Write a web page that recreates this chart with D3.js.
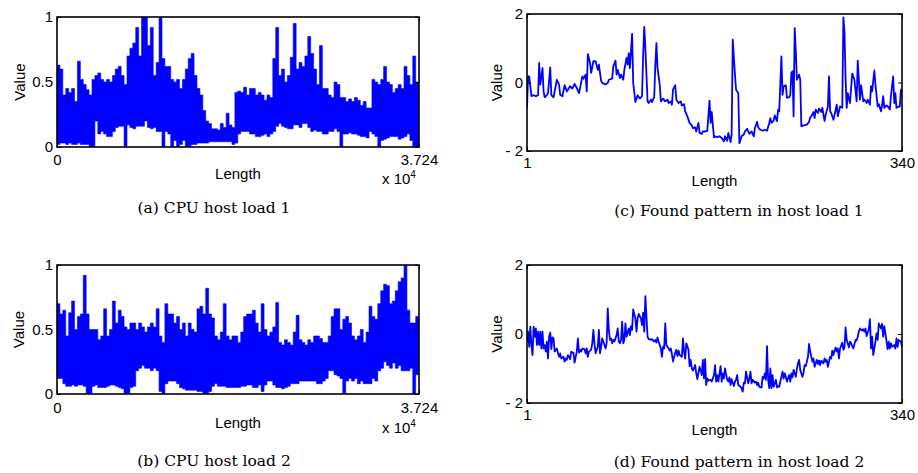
<!DOCTYPE html>
<html>
<head>
<meta charset="utf-8">
<script src="https://cdn.jsdelivr.net/npm/d3@7"></script>
<style>
  body { margin: 0; background: #fff; }
  svg { display: block; }
  .axis text { font-family: "Liberation Sans", Arial, sans-serif; font-size: 15px; fill: #000; }
  .axis line { stroke: #000; stroke-width: 1; }
  .lbl { font-family: "Liberation Sans", Arial, sans-serif; font-size: 15px; fill: #000; }
  .cap { font-family: "DejaVu Serif", serif; font-size: 15.5px; fill: #000; }
</style>
</head>
<body>
<svg id="fig" width="918" height="473"></svg>
<script>
// ---- CPU host load traces: per-bin peak / trough of the load (bin = 300 samples) ----
const TRACE_LENGTH = 37240;
const BIN_SIZE = 300;

const hostLoad1Peak = [
  0.63,0.60,0.40,0.45,0.42,0.45,0.35,0.66,0.52,0.48,
  0.44,0.40,0.52,0.55,0.57,0.52,0.50,0.52,0.50,0.55,
  0.60,0.62,0.55,0.48,0.70,0.76,0.80,0.92,0.70,1.00,
  1.00,0.78,0.92,0.55,0.65,1.00,0.68,0.62,0.62,0.52,
  0.50,0.52,0.45,0.52,0.60,0.68,0.72,0.55,0.45,0.40,
  0.28,0.20,0.18,0.14,0.14,0.13,0.18,0.15,0.26,0.17,
  0.15,0.42,0.43,0.42,0.46,0.40,0.45,0.45,0.40,0.42,
  0.40,0.36,0.40,0.38,0.68,0.92,0.55,0.60,0.50,0.55,
  0.69,0.95,0.60,0.65,0.62,0.70,0.85,0.72,0.60,0.48,
  0.78,0.45,0.45,0.40,0.38,0.50,0.48,0.38,0.38,0.35,
  0.37,0.35,0.38,0.36,0.32,0.35,0.30,0.30,0.52,0.50,
  0.48,0.52,0.62,0.50,0.48,0.42,0.45,0.48,0.45,0.62,
  0.55,0.48,0.70,0.50
];
const hostLoad1Trough = [
  0.02,0.03,0.03,0.02,0.03,0.02,0.02,0.03,0.02,0.02,
  0.02,0.00,0.00,0.20,0.10,0.12,0.10,0.08,0.08,0.12,
  0.15,0.16,0.16,0.00,0.17,0.15,0.14,0.16,0.16,0.16,
  0.20,0.15,0.14,0.15,0.12,0.12,0.00,0.12,0.10,0.00,
  0.05,0.00,0.02,0.05,0.00,0.00,0.02,0.02,0.03,0.03,
  0.03,0.03,0.04,0.04,0.04,0.04,0.04,0.04,0.04,0.04,
  0.02,0.03,0.10,0.12,0.12,0.12,0.10,0.10,0.08,0.08,
  0.09,0.10,0.08,0.10,0.12,0.16,0.18,0.16,0.15,0.14,
  0.14,0.17,0.17,0.15,0.18,0.18,0.15,0.12,0.13,0.12,
  0.12,0.10,0.10,0.12,0.12,0.14,0.12,0.00,0.10,0.10,
  0.11,0.10,0.10,0.09,0.08,0.08,0.07,0.12,0.10,0.08,
  0.00,0.05,0.06,0.07,0.08,0.08,0.08,0.06,0.07,0.08,
  0.10,0.05,0.00,0.00
];

const hostLoad2Peak = [
  0.70,0.62,0.65,0.45,0.63,0.72,0.50,0.60,0.62,0.92,
  0.62,0.50,0.50,0.50,0.42,0.45,0.66,0.45,0.50,0.72,
  0.55,0.65,0.60,0.52,0.50,0.55,0.55,0.50,0.55,0.52,
  0.48,0.52,0.55,0.52,0.66,0.45,0.40,0.70,0.62,0.62,
  0.55,0.60,0.50,0.55,0.45,0.55,0.50,0.48,0.66,0.68,
  0.62,0.82,0.62,0.59,0.45,0.42,0.48,0.70,0.45,0.42,
  0.45,0.45,0.40,0.48,0.60,0.62,0.62,0.65,0.55,0.48,
  0.70,0.50,0.45,0.48,0.52,0.71,0.40,0.38,0.42,0.40,
  0.38,0.48,0.61,0.42,0.40,0.38,0.42,0.40,0.45,0.45,
  0.43,0.40,0.40,0.45,0.60,0.66,0.66,0.50,0.58,0.60,
  0.55,0.45,0.42,0.45,0.50,0.40,0.48,0.68,0.60,0.58,
  0.70,0.80,0.85,0.84,0.70,0.72,0.80,0.87,0.90,1.00,
  0.65,0.55,0.55,0.60
];
const hostLoad2Trough = [
  0.12,0.12,0.08,0.06,0.06,0.07,0.06,0.07,0.07,0.06,
  0.00,0.00,0.06,0.07,0.05,0.05,0.05,0.06,0.07,0.07,
  0.06,0.05,0.04,0.00,0.00,0.05,0.06,0.18,0.20,0.22,
  0.20,0.20,0.18,0.20,0.18,0.02,0.00,0.08,0.10,0.10,
  0.10,0.08,0.05,0.04,0.03,0.03,0.03,0.03,0.02,0.02,
  0.00,0.00,0.02,0.06,0.08,0.06,0.06,0.06,0.05,0.05,
  0.05,0.05,0.05,0.06,0.06,0.07,0.07,0.05,0.05,0.07,
  0.02,0.07,0.10,0.10,0.07,0.05,0.05,0.04,0.05,0.06,
  0.08,0.08,0.08,0.10,0.10,0.10,0.10,0.10,0.10,0.08,
  0.08,0.10,0.12,0.18,0.18,0.15,0.14,0.12,0.00,0.10,
  0.12,0.10,0.12,0.08,0.10,0.08,0.08,0.08,0.12,0.10,
  0.18,0.20,0.25,0.22,0.20,0.24,0.20,0.22,0.18,0.18,
  0.18,0.20,0.00,0.15
];

// ---- Found patterns (sample index, normalised value) ----
const pattern1 = [
  [1,-0.74],[2,0.18],[3,0.18],[5,-0.40],[7,-0.37],[9,-0.40],[11,-0.37],[12,0.57],[13,-0.06],[15,0.42],
  [16,-0.26],[17,-0.43],[19,-0.37],[20,-0.31],[22,0.44],[23,-0.37],[25,-0.43],[28,0.08],[30,-0.06],[31,-0.36],
  [33,-0.40],[35,-0.08],[37,-0.26],[39,-0.16],[40,-0.11],[42,-0.18],[44,-0.04],[46,-0.16],[48,-0.31],[49,-0.16],
  [51,0.18],[52,0.11],[54,0.23],[55,-0.26],[56,0.83],[58,0.57],[59,0.28],[61,0.62],[63,0.62],[65,0.37],
  [66,0.52],[68,0.05],[69,-0.01],[72,-0.06],[74,-0.01],[75,0.08],[78,0.11],[79,0.47],[81,0.64],[82,0.23],
  [83,0.37],[85,0.13],[86,0.23],[88,0.08],[89,0.37],[91,0.72],[92,0.52],[93,0.86],[94,0.42],[96,1.42],
  [97,-0.01],[99,-0.57],[101,-0.37],[103,-0.47],[105,-0.40],[106,0.81],[107,1.62],[108,1.01],[110,-0.55],[111,-0.60],
  [113,-0.50],[114,-0.57],[116,-0.43],[117,0.52],[118,1.15],[119,0.42],[121,-0.06],[122,-0.55],[124,-0.47],[126,-0.55],
  [128,-0.50],[129,-0.60],[131,-0.55],[132,-0.65],[133,-0.21],[135,-0.08],[136,-0.50],[138,-0.60],[140,-0.55],[141,-0.67],
  [143,-0.63],[144,-0.84],[146,-0.99],[148,-1.18],[150,-1.25],[151,-1.33],[153,-1.31],[154,-1.43],[156,-1.18],[157,-1.47],
  [159,-1.50],[160,-1.43],[162,-1.43],[164,-1.41],[166,-0.53],[167,-1.18],[168,-0.86],[170,-1.60],[171,-1.57],[173,-1.60],
  [175,-1.57],[177,-1.62],[179,-1.72],[180,-1.57],[182,-1.70],[183,-1.47],[185,-1.74],[186,-1.52],[187,1.25],[189,0.23],
  [190,-0.21],[192,-0.31],[193,-1.77],[195,-1.57],[197,-1.52],[198,-1.43],[200,-1.35],[202,-1.50],[204,-1.43],[206,-1.57],
  [207,-1.33],[209,-1.15],[210,-1.31],[212,-1.38],[214,-1.41],[216,-1.38],[218,-1.41],[220,-1.18],[221,-1.04],[222,-1.18],
  [224,-1.11],[225,-0.96],[227,-1.13],[228,-0.79],[229,-0.84],[231,0.76],[232,-0.36],[233,-0.11],[235,-0.08],[236,-0.45],
  [238,-0.43],[239,-0.37],[240,0.28],[241,0.33],[242,-0.99],[243,1.59],[244,0.91],[245,0.08],[247,0.23],[248,0.08],
  [249,-1.28],[251,-1.25],[254,-1.23],[256,-1.15],[257,-1.02],[258,-0.99],[260,-0.86],[261,-1.04],[262,-0.79],[264,-0.89],
  [265,-0.76],[267,-0.86],[268,-0.74],[270,-1.13],[271,-0.94],[273,-0.70],[274,0.18],[275,-0.84],[276,-0.89],[278,-1.09],
  [279,-0.94],[281,-0.65],[282,-0.99],[284,-0.70],[286,-0.74],[287,1.90],[288,1.49],[289,0.13],[290,-0.74],[291,-0.31],
  [293,-0.60],[294,-0.16],[295,0.26],[297,0.08],[298,-0.24],[299,-0.55],[300,0.64],[302,-0.50],[303,-0.08],[305,-0.55],
  [306,-0.50],[308,-0.60],[309,-0.50],[311,-0.65],[312,-0.11],[313,-0.26],[315,0.35],[316,-0.06],[318,-0.70],[319,-0.63],
  [321,-0.84],[322,-0.65],[323,-0.40],[324,-0.74],[326,-0.67],[328,-0.73],[329,-0.79],[330,-0.40],[332,0.18],[333,-0.60],
  [334,-0.31],[335,-0.74],[337,-0.70],[338,-0.70],[339,-0.21],[340,-0.40]
];

const pattern2 = [
  [1,-0.22],[2,0.07],[3,-0.37],[4,0.21],[5,-0.32],[6,-0.61],[7,0.21],[8,-0.08],[9,0.16],[10,-0.32],
  [11,0.07],[12,-0.32],[13,0.07],[14,-0.42],[15,0.07],[16,-0.42],[17,-0.32],[18,-0.51],[19,-0.22],[20,-0.71],
  [21,-0.08],[22,0.04],[23,-0.44],[24,-0.10],[25,-0.13],[26,-0.51],[28,-0.42],[29,-0.56],[30,-0.66],[31,-0.56],
  [32,-0.71],[34,-0.66],[35,-0.80],[36,-0.71],[37,-0.75],[38,-0.61],[40,-0.73],[41,-0.51],[42,-0.54],[43,-0.54],
  [44,-0.83],[46,-0.51],[47,-0.13],[48,-0.54],[49,-0.46],[50,-0.51],[51,-0.42],[53,-0.44],[54,-0.56],[55,-0.42],
  [56,-0.66],[57,-0.51],[59,-0.46],[60,-0.27],[61,0.12],[62,-0.27],[63,-0.56],[64,-0.46],[65,-0.37],[66,0.12],
  [67,-0.56],[68,-0.37],[69,-0.13],[70,-0.22],[72,-0.42],[73,-0.27],[74,0.74],[75,0.12],[76,-0.17],[77,-0.13],
  [78,-0.27],[79,-0.17],[80,-0.22],[82,-0.03],[83,0.16],[84,-0.22],[85,-0.27],[86,-0.17],[87,0.36],[88,-0.27],
  [89,-0.17],[90,0.31],[91,-0.08],[93,0.16],[94,-0.03],[95,0.23],[96,0.12],[97,0.71],[99,0.45],[100,0.07],
  [101,0.45],[102,0.58],[104,0.45],[105,0.26],[106,0.62],[107,0.07],[108,1.10],[110,-0.08],[111,-0.15],[112,-0.15],
  [113,-0.17],[114,-0.15],[116,-0.22],[117,-0.17],[118,-0.25],[119,-0.10],[120,-0.22],[122,-0.42],[123,-0.66],[124,-0.37],
  [125,-0.42],[126,0.31],[127,-0.32],[129,-0.42],[130,-0.48],[131,-0.42],[132,-0.58],[133,-0.80],[135,-0.54],[136,-0.46],
  [137,-0.64],[138,-0.48],[139,-0.61],[141,-0.66],[142,-0.13],[143,-0.51],[144,-0.71],[145,-0.27],[147,-0.46],[148,-0.93],
  [149,-0.75],[150,-1.00],[151,-1.06],[153,-0.90],[154,-1.14],[155,-1.31],[156,-1.12],[157,-0.95],[159,-1.19],[160,-0.75],
  [161,-1.29],[162,-0.73],[163,-1.48],[164,-1.29],[165,-1.35],[167,-1.33],[168,-1.38],[170,-1.19],[171,-0.90],[172,-1.38],
  [173,-1.19],[174,-1.38],[176,-0.93],[177,-1.38],[178,-1.14],[179,-1.29],[180,-1.00],[182,-1.33],[183,-1.38],[184,-1.26],
  [185,-1.48],[186,-1.31],[188,-1.51],[189,-1.38],[190,-1.33],[191,-1.19],[192,-1.48],[194,-1.53],[195,-1.57],[196,-1.67],
  [197,-1.41],[198,-1.43],[199,-1.09],[201,-1.43],[202,-1.29],[203,-1.09],[204,-1.43],[205,-1.33],[207,-1.41],[208,-1.38],
  [209,-1.48],[210,-1.41],[211,-1.53],[213,-1.55],[214,-1.24],[215,-1.29],[216,-1.14],[217,-1.33],[218,-0.35],[219,-1.33],
  [220,-1.57],[221,-1.00],[222,-1.57],[223,-1.19],[224,-1.53],[226,-1.33],[227,-1.55],[228,-1.51],[229,-1.53],[230,-1.38],
  [232,-1.09],[233,-1.29],[234,-1.14],[235,-1.24],[236,-1.38],[238,-1.19],[239,-1.38],[240,-1.14],[241,-1.26],[242,-1.04],
  [244,-1.24],[245,-1.00],[246,-0.85],[247,-0.75],[248,-1.04],[250,-1.24],[251,-1.12],[252,-0.90],[253,-0.93],[255,-0.66],
  [256,-0.29],[257,-0.51],[258,-0.66],[259,-0.80],[260,-0.71],[261,-0.95],[263,-0.75],[264,-0.87],[265,-0.77],[266,-0.90],
  [267,-0.77],[269,-0.85],[270,-0.71],[271,-0.80],[272,-0.75],[273,-0.95],[275,-0.66],[276,-0.71],[277,-0.48],[278,-0.61],
  [280,-0.39],[281,-0.51],[282,-0.42],[283,-0.71],[284,-0.42],[286,-0.25],[287,-0.46],[288,-0.39],[289,0.19],[290,-0.17],
  [292,-0.39],[293,-0.22],[294,-0.27],[295,-0.35],[296,-0.42],[298,-0.17],[299,-0.19],[300,-0.08],[301,0.07],[302,0.16],
  [304,0.10],[305,0.14],[306,0.07],[307,0.16],[308,-0.06],[310,0.14],[311,0.43],[312,-0.42],[313,-0.08],[314,-0.61],
  [316,-0.22],[317,0.02],[318,-0.17],[319,0.31],[321,0.16],[322,0.29],[323,-0.08],[324,0.23],[325,0.02],[327,-0.44],
  [328,-0.22],[329,-0.42],[330,-0.27],[331,-0.37],[333,-0.32],[334,-0.42],[335,-0.13],[336,-0.37],[337,-0.17],[339,-0.22],
  [340,-0.37]
];

// ---- tick values and labels ----
const loadTicksY = [0, 0.5, 1];
const loadTickLabelsY = ["0", "0.5", "1"];
const loadTicksX = [0, TRACE_LENGTH];
const loadTickLabelsX = ["0", "3.724"];
const patternTicksY = [-2, 0, 2];
const patternTickLabelsY = ["- 2", "0", "2"];
const patternTicksX = [1, 340];
const patternTickLabelsX = ["1", "340"];

const captions = [
  "(a) CPU host load 1",
  "(b) CPU host load 2",
  "(c) Found pattern in host load 1",
  "(d) Found pattern in host load 2"
];

// Per-bin records for the dense traces (start sample, peak, trough)
function binRecords(peak, trough) {
  const rows = peak.map((p, i) => ({ x: i * BIN_SIZE, hi: p, lo: trough[i] }));
  rows.push({ x: TRACE_LENGTH, hi: peak[peak.length - 1], lo: trough[trough.length - 1] });
  return rows;
}

const svg = d3.select("#fig");
const defs = svg.append("defs");

const panels = [
  { key: "a", box: [57, 17, 419, 147], xDomain: [0, TRACE_LENGTH], yDomain: [0, 1],
    dense: binRecords(hostLoad1Peak, hostLoad1Trough),
    xTicks: loadTicksX, xLabels: loadTickLabelsX, yTicks: loadTicksY, yLabels: loadTickLabelsY,
    xPad: 7, valueX: 25, lengthY: 179, exponent: true, caption: captions[0], capX: 214, capY: 213 },
  { key: "b", box: [57, 265, 419, 394], xDomain: [0, TRACE_LENGTH], yDomain: [0, 1],
    dense: binRecords(hostLoad2Peak, hostLoad2Trough),
    xTicks: loadTicksX, xLabels: loadTickLabelsX, yTicks: loadTicksY, yLabels: loadTickLabelsY,
    xPad: 8, valueX: 24, lengthY: 428, exponent: true, caption: captions[1], capX: 214, capY: 466 },
  { key: "c", box: [527, 14, 902, 151], xDomain: [1, 340], yDomain: [-2, 2],
    points: pattern1, lineWidth: 1.8,
    xTicks: patternTicksX, xLabels: patternTickLabelsX, yTicks: patternTicksY, yLabels: patternTickLabelsY,
    xPad: 6, valueX: 502, lengthY: 186, exponent: false, caption: captions[2], capX: 739, capY: 216 },
  { key: "d", box: [527, 265, 902, 403], xDomain: [1, 340], yDomain: [-2, 2],
    points: pattern2, lineWidth: 1.8,
    xTicks: patternTicksX, xLabels: patternTickLabelsX, yTicks: patternTicksY, yLabels: patternTickLabelsY,
    xPad: 6, valueX: 502, lengthY: 435, exponent: false, caption: captions[3], capX: 739, capY: 467 }
];

panels.forEach(p => {
  const [x0, y0, x1, y1] = p.box;
  const x = d3.scaleLinear().domain(p.xDomain).range([x0, x1]);
  const y = d3.scaleLinear().domain(p.yDomain).range([y1, y0]);
  const g = svg.append("g");

  defs.append("clipPath").attr("id", "clip-" + p.key)
    .append("rect").attr("x", x0).attr("y", y0).attr("width", x1 - x0).attr("height", y1 - y0);

  if (p.dense) {
    // each bin is filled from its trough up to its peak
    const band = d3.area().curve(d3.curveStepAfter)
      .x(d => x(d.x)).y0(d => y(d.lo)).y1(d => y(d.hi));
    g.append("path")
      .attr("clip-path", `url(#clip-${p.key})`)
      .attr("d", band(p.dense))
      .attr("fill", "#0000ff")
      .attr("stroke", "#0000ff")
      .attr("stroke-width", 0.6);
  } else {
    const line = d3.line().x(d => x(d[0])).y(d => y(d[1]));
    g.append("path")
      .attr("clip-path", `url(#clip-${p.key})`)
      .attr("d", line(p.points))
      .attr("fill", "none")
      .attr("stroke", "#0000ff")
      .attr("stroke-width", p.lineWidth)
      .attr("stroke-linejoin", "round");
  }

  // inward ticks on all four sides
  const left = d3.axisLeft(y).tickValues(p.yTicks).tickFormat((d, i) => p.yLabels[i]).tickSize(-4).tickPadding(4);
  const right = d3.axisRight(y).tickValues(p.yTicks).tickFormat("").tickSize(-4);
  const bottom = d3.axisBottom(x).tickValues(p.xTicks).tickFormat((d, i) => p.xLabels[i]).tickSize(-4).tickPadding(p.xPad);
  const top = d3.axisTop(x).tickValues(p.xTicks).tickFormat("").tickSize(-4);

  g.append("g").attr("class", "axis").attr("transform", `translate(${x0},0)`).call(left);
  g.append("g").attr("class", "axis").attr("transform", `translate(${x1},0)`).call(right);
  g.append("g").attr("class", "axis").attr("transform", `translate(0,${y1})`).call(bottom);
  g.append("g").attr("class", "axis").attr("transform", `translate(0,${y0})`).call(top);
  g.selectAll(".axis .domain").remove();

  g.append("rect")
    .attr("x", x0).attr("y", y0).attr("width", x1 - x0).attr("height", y1 - y0)
    .attr("fill", "none").attr("stroke", "#000").attr("stroke-width", 1.6);

  // axis titles
  g.append("text").attr("class", "lbl")
    .attr("transform", `translate(${p.valueX},${(y0 + y1) / 2}) rotate(-90)`)
    .attr("text-anchor", "middle").text("Value");
  g.append("text").attr("class", "lbl")
    .attr("x", (x0 + x1) / 2).attr("y", p.lengthY)
    .attr("text-anchor", "middle").text("Length");

  if (p.exponent) {
    const t = g.append("text").attr("class", "lbl").attr("x", x1 - 37).attr("y", p.lengthY + 5);
    t.append("tspan").text("x 10");
    t.append("tspan").attr("dy", -6).attr("font-size", 10).text("4");
  }

  g.append("text").attr("class", "cap")
    .attr("x", p.capX).attr("y", p.capY)
    .attr("text-anchor", "middle").text(p.caption);
});
</script>
</body>
</html>
